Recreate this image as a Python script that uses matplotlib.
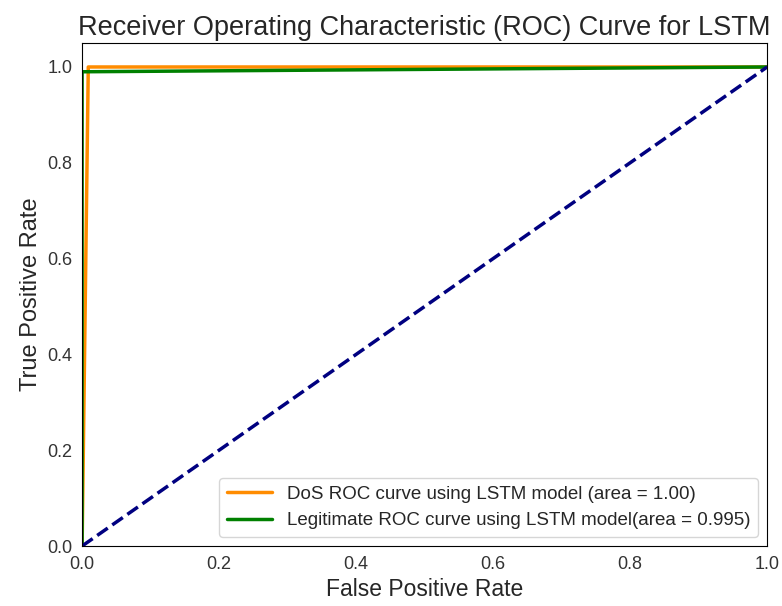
import matplotlib
matplotlib.use("Agg")
import matplotlib.pyplot as plt
import seaborn as sns

sns.set_style("white")
plt.rcParams['font.family'] = ['Liberation Sans', 'DejaVu Sans']

# ROC points
dos_fpr = [0.0, 0.009, 1.0]
dos_tpr = [0.0, 1.0, 1.0]
leg_fpr = [0.0, 0.0, 1.0]
leg_tpr = [0.0, 0.99, 1.0]
chance = [0.0, 1.0]

fig, ax = plt.subplots(figsize=(7.82, 6.06), dpi=100)
ax.plot(dos_fpr, dos_tpr, color='darkorange', lw=2.5,
        label='DoS ROC curve using LSTM model (area = 1.00)')
ax.plot(leg_fpr, leg_tpr, color='green', lw=2.5,
        label='Legitimate ROC curve using LSTM model(area = 0.995)')
ax.plot(chance, chance, color='navy', lw=2.5, linestyle='--')
ax.set_xlim(0.0, 1.0)
ax.set_ylim(0.0, 1.05)
ax.set_xlabel('False Positive Rate', fontsize=16.5)
ax.set_ylabel('True Positive Rate', fontsize=17)
ax.set_title('Receiver Operating Characteristic (ROC) Curve for LSTM', fontsize=19.5)
ax.tick_params(labelsize=13, colors='#333333')
for s in ax.spines.values():
    s.set_color('black')
ax.legend(loc='lower right', fontsize=13.5, handlelength=2.4)
fig.subplots_adjust(left=0.105, right=0.981, top=0.929, bottom=0.099)
fig.savefig('out.png')
